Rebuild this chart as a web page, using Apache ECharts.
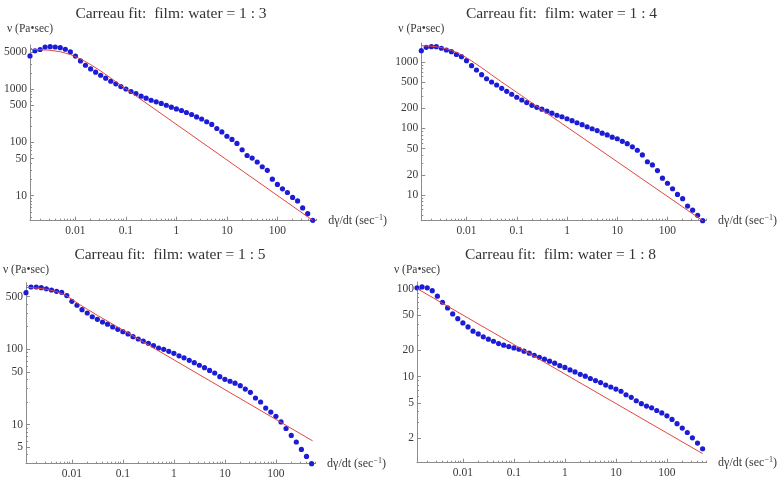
<!DOCTYPE html>
<html><head><meta charset="utf-8">
<script src="https://cdn.jsdelivr.net/npm/echarts@6/dist/echarts.min.js"></script>
<style>html,body{margin:0;padding:0;background:#fff}#c{width:784px;height:484px}</style>
</head><body><div id="c"></div><script>
// shear rates (sec^-1)
const shearRates = [0.00126, 0.00158, 0.002, 0.00251, 0.00316, 0.00398, 0.00501, 0.00631, 0.00794,
  0.01, 0.0126, 0.0158, 0.02, 0.0251, 0.0316, 0.0398, 0.0501, 0.0631, 0.0794,
  0.1, 0.126, 0.158, 0.2, 0.251, 0.316, 0.398, 0.501, 0.631, 0.794,
  1, 1.26, 1.58, 2, 2.51, 3.16, 3.98, 5.01, 6.31, 7.94,
  10, 12.6, 15.8, 20, 25.1, 31.6, 39.8, 50.1, 63.1, 79.4,
  100, 126, 158, 200, 251, 316, 398, 501];
// measured viscosity (Pa·sec)
const eta13 = [4220, 5250, 5560, 6200, 6300, 6200, 6030, 5630, 5020, 4180,
  3400, 2820, 2400, 2090, 1830, 1610, 1410, 1260, 1120, 1010,
  906, 830, 740, 680, 620, 580, 540, 500, 460, 427,
  398, 365, 335, 302, 276, 245, 218, 183, 158, 131,
  114, 96, 73, 57, 51, 43, 35, 30, 20.5, 16.3,
  13.5, 11.5, 9.3, 8.0, 5.9, 4.6, 3.45];
const eta14 = [1480, 1660, 1700, 1700, 1610, 1515, 1430, 1300, 1200, 1045,
  880, 758, 645, 560, 500, 451, 402, 362, 327, 295,
  268, 245, 223, 208, 195, 182, 170, 158, 150, 140,
  131, 122, 114, 106, 99, 93, 85, 80, 74, 70,
  64, 59, 53, 47, 40, 31.6, 28.3, 23.3, 17.9, 15,
  12.4, 10.2, 8.8, 6.8, 5.9, 4.95, 4.1];
const eta15 = [563, 670, 670, 656, 635, 611, 588, 570, 515, 433,
  384, 335, 303, 270, 250, 230, 215, 198, 184, 171,
  160, 147, 137, 128, 120, 112, 104, 100, 94, 88.5,
  82, 77, 71.5, 66.4, 61.4, 57, 52.5, 48.5, 43.4, 40,
  37.7, 35.5, 32.9, 29.7, 26.9, 22.6, 20, 16.6, 14.7, 12.9,
  10.9, 8.9, 7.2, 5.9, 4.7, 3.8, 3.04];
const eta18 = [103, 105.4, 103, 95.6, 82.6, 70.5, 60.7, 51.9, 45.8, 40.9,
  36.9, 33, 30.7, 28.4, 26.7, 25.3, 23.8, 22.8, 22, 21.2,
  20.5, 19.5, 18.5, 17.5, 16.6, 15.8, 15, 14.2, 13.3, 12.7,
  11.9, 11.3, 10.6, 10.1, 9.5, 9.0, 8.55, 8.0, 7.6, 7.2,
  6.8, 6.2, 5.8, 5.3, 4.9, 4.6, 4.4, 4.1, 3.85, 3.56,
  3.24, 2.9, 2.58, 2.3, 2.0, 1.74, 1.5];
// Carreau fit curves
const fitX13 = [0.00126, 0.002, 0.00316, 0.005, 0.0079, 0.0126, 0.02, 0.0316, 0.05, 0.079, 0.126, 501];
const fitY13 = [5600, 5520, 5380, 5050, 4500, 3700, 2900, 2200, 1620, 1190, 870, 3.45];
const fitX14 = [0.00126, 0.002, 0.00316, 0.005, 0.0079, 0.0126, 0.02, 0.0316, 0.05, 0.079, 0.126, 0.2, 501];
const fitY14 = [1760, 1730, 1650, 1500, 1290, 1040, 820, 640, 500, 395, 310, 243, 4.1];
const fitX15 = [0.00126, 0.002, 0.00316, 0.005, 0.0079, 0.0126, 0.02, 0.0316, 0.05, 0.079, 0.126, 0.2, 525];
const fitY15 = [663, 650, 625, 585, 512, 412, 340, 282, 236, 197, 165, 137, 6.1];
const fitX18 = [0.00126, 0.1, 501];
const fitY18 = [101, 23.2, 1.32];
// tick labels
const xTickValues = [0.01, 0.1, 1, 10, 100];
const yTicks13 = [10, 50, 100, 500, 1000, 5000];
const yTicks14 = [10, 20, 50, 100, 200, 500, 1000];
const yTicks15 = [5, 10, 50, 100, 500];
const yTicks18 = [2, 5, 10, 20, 50, 100];
const titles = ['Carreau fit:  film: water = 1 : 3', 'Carreau fit:  film: water = 1 : 4',
  'Carreau fit:  film: water = 1 : 5', 'Carreau fit:  film: water = 1 : 8'];

const FONT = "'Liberation Serif','Times New Roman',serif";
const TXT = '#3a3a3a';
const AX = '#8c8c8c';
const X_MIN = 0.00126, X_MAX = 600;

const panels = [
  {title: titles[0], eta: eta13, fx: fitX13, fy: fitY13, yt: yTicks13, yMin: 3.4, yMax: 6760,
   left: 30, top: 45, w: 286.7, h: 175.7, tx: 171, ty: 14, yGap: 16},
  {title: titles[1], eta: eta14, fx: fitX14, fy: fitY14, yt: yTicks14, yMin: 4.1, yMax: 1930,
   left: 421.3, top: 43, w: 285.3, h: 177.7, tx: 561.5, ty: 14, yGap: 14},
  {title: titles[2], eta: eta15, fx: fitX15, fy: fitY15, yt: yTicks15, yMin: 3.04, yMax: 764,
   left: 26, top: 282.7, w: 289.6, h: 181, tx: 170, ty: 255.3, yGap: 12.4},
  {title: titles[3], eta: eta18, fx: fitX18, fy: fitY18, yt: yTicks18, yMin: 1.04, yMax: 120,
   left: 417, top: 282, w: 289.6, h: 180.7, tx: 560.5, ty: 255.3, yGap: 11.7}
];

function fmt(v) { return String(+Number(v).toPrecision(6)); }
function minorTicks(lo, hi, majors) {
  const out = [];
  for (let e = -4; e <= 4; e++) {
    for (let k = 1; k <= 9; k++) {
      const v = +(k * Math.pow(10, e)).toPrecision(6);
      if (v >= lo && v <= hi && majors.indexOf(v) < 0) out.push(v);
    }
  }
  return out;
}
const xMinor = minorTicks(X_MIN, X_MAX, xTickValues);

const grid = [], xAxis = [], yAxis = [], series = [], graphic = [];
panels.forEach((p, i) => {
  grid.push({left: p.left, top: p.top, width: p.w, height: p.h});
  xAxis.push({
    type: 'log', gridIndex: i, position: 'bottom', min: X_MIN, max: X_MAX,
    axisLine: {show: true, onZero: false, lineStyle: {color: AX, width: 1}},
    axisTick: {show: true, inside: true, length: 4, customValues: xTickValues, lineStyle: {color: AX}},
    axisLabel: {show: true, customValues: xTickValues, formatter: fmt, margin: 4.5,
      color: TXT, fontFamily: FONT, fontSize: 11.5},
    splitLine: {show: false},
    name: 'dγ/dt (sec{sup|−1})', nameLocation: 'end', nameGap: 11.5,
    nameTextStyle: {fontFamily: FONT, fontSize: 12, color: TXT, verticalAlign: 'middle',
      rich: {sup: {fontFamily: FONT, fontSize: 8, color: TXT, verticalAlign: 'top', padding: [0, 0, 5, 0]}}}
  });
  xAxis.push({
    type: 'log', gridIndex: i, position: 'bottom', min: X_MIN, max: X_MAX,
    axisLine: {show: false},
    axisTick: {show: true, inside: true, length: 2, customValues: xMinor, lineStyle: {color: AX}},
    axisLabel: {show: false}, splitLine: {show: false}
  });
  const yMinor = minorTicks(p.yMin, p.yMax, p.yt);
  yAxis.push({
    type: 'log', gridIndex: i, position: 'left', min: p.yMin, max: p.yMax,
    axisLine: {show: true, onZero: false, lineStyle: {color: AX, width: 1}},
    axisTick: {show: true, inside: true, length: 4, customValues: p.yt, lineStyle: {color: AX}},
    axisLabel: {show: true, customValues: p.yt, formatter: fmt, margin: 3,
      color: TXT, fontFamily: FONT, fontSize: 11.5},
    splitLine: {show: false},
    name: 'ν (Pa•sec)', nameLocation: 'end', nameGap: p.yGap,
    nameTextStyle: {fontFamily: FONT, fontSize: 11.5, color: TXT, verticalAlign: 'middle', align: 'center'}
  });
  yAxis.push({
    type: 'log', gridIndex: i, position: 'left', min: p.yMin, max: p.yMax,
    axisLine: {show: false},
    axisTick: {show: true, inside: true, length: 2, customValues: yMinor, lineStyle: {color: AX}},
    axisLabel: {show: false}, splitLine: {show: false}
  });
  series.push({
    type: 'scatter', xAxisIndex: 2 * i, yAxisIndex: 2 * i, clip: false, z: 2,
    symbolSize: 5.2, itemStyle: {color: '#1c1cd6', opacity: 1},
    data: shearRates.map((x, k) => [x, p.eta[k]])
  });
  series.push({
    type: 'line', xAxisIndex: 2 * i, yAxisIndex: 2 * i, clip: false, z: 3,
    showSymbol: false, symbol: 'none', smooth: false,
    lineStyle: {color: '#e2473f', width: 1},
    data: p.fx.map((x, k) => [x, p.fy[k]])
  });
  graphic.push({
    type: 'text', x: p.tx, y: p.ty,
    style: {text: p.title, fill: '#333', font: "15.5px " + FONT, textAlign: 'center', textVerticalAlign: 'middle'}
  });
});

const chart = echarts.init(document.getElementById('c'));
chart.setOption({
  animation: false,
  backgroundColor: '#fff',
  grid, xAxis, yAxis, series, graphic
});
</script></body></html>
